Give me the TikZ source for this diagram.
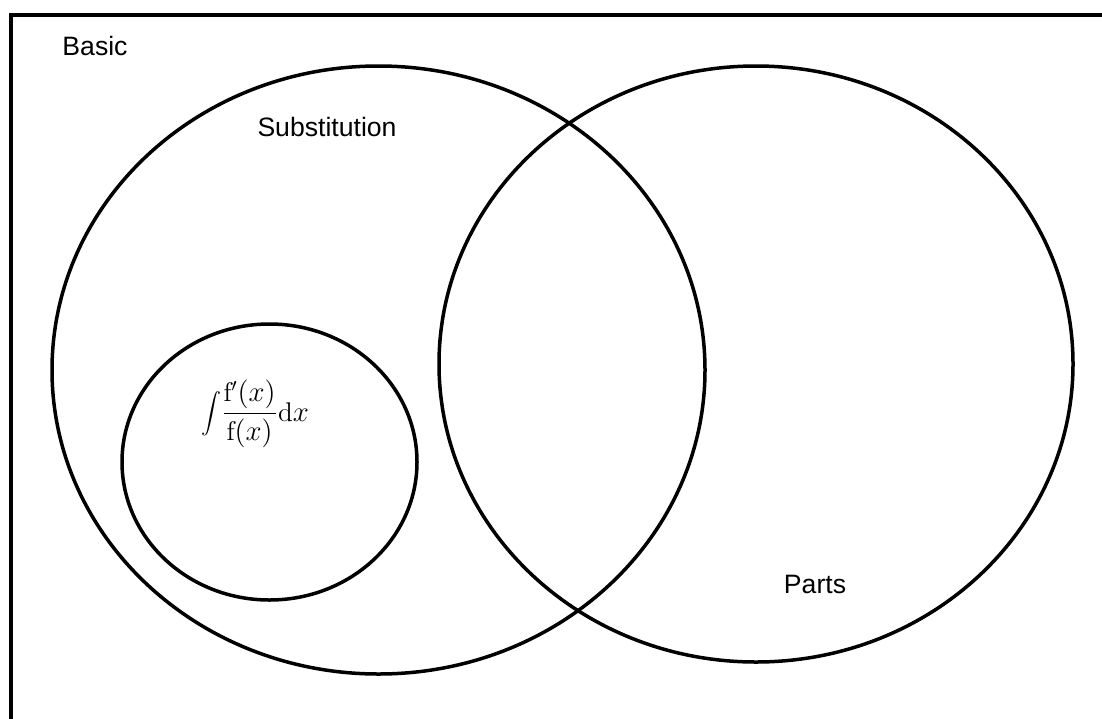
\documentclass[tikz,border=0pt]{standalone}
\usepackage{fontspec}
\newfontfamily\labelfont{Liberation Sans}
\begin{document}
\begin{tikzpicture}[x=0.5pt,y=-0.5pt,
  setcircle/.style={draw=black,line width=1.75pt},
  lbl/.style={font=\labelfont\fontsize{13.3}{16}\selectfont,inner sep=0pt}]
\useasboundingbox (0,0) rectangle (1102,718);
\clip (0,0) rectangle (1102,718);
\draw[line width=2pt] (10.5,15) rectangle (1120,740);
\draw[setcircle] (378.5,370) ellipse [x radius=326.5,y radius=304];
\draw[setcircle] (756,364) ellipse [x radius=317,y radius=298];
\draw[setcircle] (269.5,462) ellipse [x radius=147.5,y radius=138];
\node[lbl] (basic) at (95,46) {Basic};
\node[lbl] (subl) at (327,127) {Substitution};
\node[lbl] (parts) at (815,584) {Parts};
\node[inner sep=0pt,font=\fontsize{13.5}{16}\selectfont] (formula) at (255,414)
  {$\displaystyle\int\!\frac{\mathrm{f}'\bigl(x\bigr)}{\mathrm{f}\bigl(x\bigr)}\mathrm{d}x$};
\end{tikzpicture}
\end{document}
